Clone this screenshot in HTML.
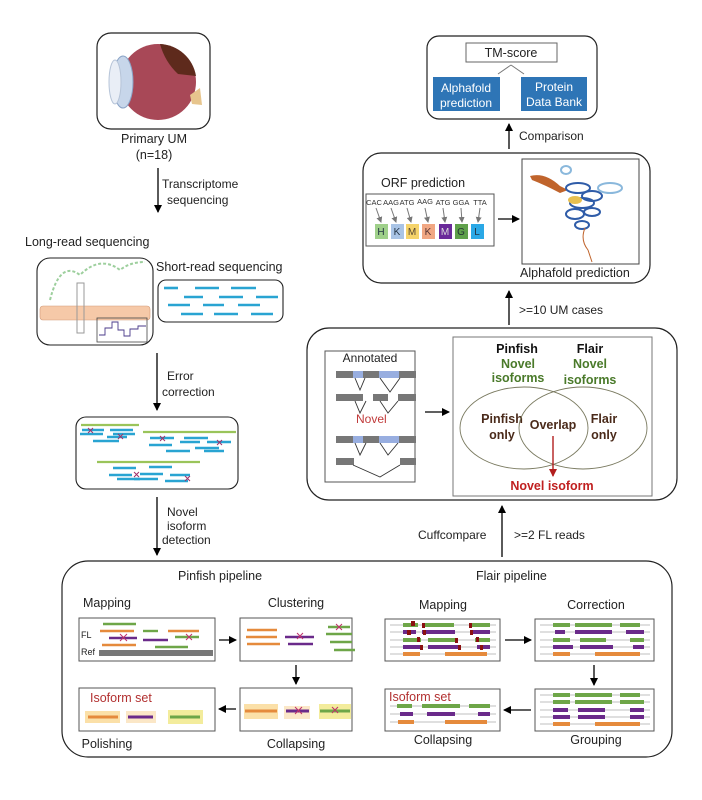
<!DOCTYPE html>
<html><head><meta charset="utf-8"><style>
html,body{margin:0;padding:0;background:#fff;}
svg{display:block;font-family:"Liberation Sans",Arial,sans-serif;}
</style></head><body>
<svg width="702" height="800" viewBox="0 0 702 800" xmlns="http://www.w3.org/2000/svg">
<defs>
<marker id="ah" markerWidth="8" markerHeight="8" refX="7" refY="4" orient="auto" markerUnits="userSpaceOnUse"><path d="M0,0 L8,4 L0,8 z" fill="#000"/></marker>
<marker id="ahr" markerWidth="8" markerHeight="8" refX="7" refY="4" orient="auto" markerUnits="userSpaceOnUse"><path d="M0,0 L8,4 L0,8 z" fill="#b21e1e"/></marker>
<marker id="ahg" markerWidth="6" markerHeight="6" refX="5" refY="3" orient="auto" markerUnits="userSpaceOnUse"><path d="M0,0 L6,3 L0,6 z" fill="#777"/></marker>
</defs>
<rect width="702" height="800" fill="#fff"/>

<!-- Eye -->
<rect x="97" y="33" width="113" height="96" rx="14" fill="#fff" stroke="#222" stroke-width="1.2"/>
<circle cx="158" cy="82" r="38" fill="#a84857"/>
<path d="M160,44 A38,38 0 0 1 196,76 L178,74 Q165,62 160,44z" fill="#5e2a1c"/>
<path d="M190,95 L200,88 L202,105 L192,104z" fill="#e7c58d"/>
<ellipse cx="123" cy="82" rx="10" ry="26" fill="#c7d6ea" stroke="#8aa3c6"/>
<ellipse cx="115" cy="82" rx="6" ry="22" fill="#e9eef6" stroke="#b6c4d8"/>
<text x="154" y="143" font-size="12.5" text-anchor="middle" fill="#222">Primary UM</text>
<text x="154" y="159" font-size="12.5" text-anchor="middle" fill="#222">(n=18)</text>

<line x1="158" y1="168" x2="158" y2="212" stroke="#000" stroke-width="1.3" marker-end="url(#ah)"/>
<text x="162" y="188" font-size="12" fill="#222">Transcriptome</text>
<text x="167" y="204" font-size="12" fill="#222">sequencing</text>

<text x="25" y="246" font-size="12.5" fill="#222">Long-read sequencing</text>
<rect x="37" y="258" width="116" height="87" rx="13" fill="#fff" stroke="#222" stroke-width="1.1"/>
<path d="M50,300 Q60,260 80,275 Q100,255 120,270 Q130,262 145,262" fill="none" stroke="#9dcf9d" stroke-width="2" stroke-dasharray="3,2"/>
<rect x="40" y="306" width="110" height="14" rx="3" fill="#f6c9a8" stroke="#d29a78" stroke-width="0.6"/>
<rect x="77" y="283" width="7" height="50" fill="none" stroke="#999"/>
<rect x="97" y="318" width="50" height="24" fill="none" stroke="#444" stroke-width="0.8"/>
<path d="M99,335 L105,335 L105,328 L112,328 L112,322 L118,322 L118,330 L124,330 L124,336 L130,336 L130,329 L138,329 L138,326 L146,326" fill="none" stroke="#4a3a8a" stroke-width="0.9"/>

<text x="156" y="271" font-size="12.5" fill="#222">Short-read sequencing</text>
<rect x="158" y="280" width="125" height="42" rx="8" fill="#fff" stroke="#222" stroke-width="1.1"/>
<g stroke="#29a4d2" stroke-width="2.6">
<line x1="164" y1="288" x2="178" y2="288"/><line x1="195" y1="288" x2="219" y2="288"/><line x1="231" y1="288" x2="256" y2="288"/>
<line x1="184" y1="297" x2="203" y2="297"/><line x1="219" y1="297" x2="243" y2="297"/><line x1="256" y1="297" x2="278" y2="297"/>
<line x1="168" y1="305" x2="190" y2="305"/><line x1="203" y1="305" x2="224" y2="305"/><line x1="238" y1="305" x2="260" y2="305"/>
<line x1="181" y1="314" x2="203" y2="314"/><line x1="214" y1="314" x2="238" y2="314"/><line x1="251" y1="314" x2="273" y2="314"/>
</g>

<line x1="157" y1="353" x2="157" y2="410" stroke="#000" stroke-width="1.3" marker-end="url(#ah)"/>
<text x="167" y="380" font-size="12" fill="#222">Error</text>
<text x="162" y="396" font-size="12" fill="#222">correction</text>

<rect x="76" y="417" width="162" height="72" rx="10" fill="#fff" stroke="#222" stroke-width="1.1"/>
<g stroke="#9ac45a" stroke-width="2.2">
<line x1="81" y1="425" x2="139" y2="425"/><line x1="143" y1="432" x2="236" y2="432"/><line x1="97" y1="462" x2="200" y2="462"/>
</g>
<g stroke="#29a4d2" stroke-width="2.4">
<line x1="82" y1="430" x2="104" y2="430"/><line x1="110" y1="430" x2="133" y2="430"/><line x1="80" y1="434" x2="103" y2="434"/><line x1="113" y1="434" x2="135" y2="434"/><line x1="93" y1="441" x2="119" y2="441"/><line x1="107" y1="437" x2="127" y2="437"/>
<line x1="150" y1="438" x2="174" y2="438"/><line x1="184" y1="438" x2="208" y2="438"/><line x1="149" y1="445" x2="172" y2="445"/><line x1="180" y1="442" x2="200" y2="442"/><line x1="207" y1="442" x2="231" y2="442"/><line x1="166" y1="451" x2="190" y2="451"/><line x1="195" y1="448" x2="219" y2="448"/><line x1="204" y1="451" x2="224" y2="451"/>
<line x1="113" y1="468" x2="136" y2="468"/><line x1="149" y1="467" x2="172" y2="467"/><line x1="109" y1="475" x2="132" y2="475"/><line x1="140" y1="474" x2="163" y2="474"/><line x1="117" y1="479" x2="140" y2="479"/><line x1="170" y1="475" x2="190" y2="475"/><line x1="134" y1="479" x2="158" y2="479"/><line x1="165" y1="481" x2="188" y2="481"/>
</g>
<g stroke="#a0306a" stroke-width="1"><path d="M88,428 l5,5 M93,428 l-5,5 M118,434 l5,5 M123,434 l-5,5 M160,436 l5,5 M165,436 l-5,5 M217,440 l5,5 M222,440 l-5,5 M134,472 l5,5 M139,472 l-5,5 M185,476 l5,5 M190,476 l-5,5"/></g>

<line x1="157" y1="497" x2="157" y2="555" stroke="#000" stroke-width="1.3" marker-end="url(#ah)"/>
<text x="167" y="516" font-size="12" fill="#222">Novel</text>
<text x="167" y="530" font-size="12" fill="#222">isoform</text>
<text x="162" y="544" font-size="12" fill="#222">detection</text>

<!-- Bottom pipeline box -->
<rect x="62" y="561" width="610" height="196" rx="26" fill="#fff" stroke="#222" stroke-width="1.2"/>
<text x="178" y="580" font-size="12.5" fill="#222">Pinfish pipeline</text>
<text x="476" y="580" font-size="12.5" fill="#222">Flair pipeline</text>
<g font-size="12.5" fill="#222" text-anchor="middle">
<text x="107" y="607">Mapping</text><text x="296" y="607">Clustering</text>
<text x="443" y="609">Mapping</text><text x="596" y="609">Correction</text>
<text x="107" y="748">Polishing</text><text x="296" y="748">Collapsing</text>
<text x="443" y="744">Collapsing</text><text x="596" y="744">Grouping</text>
</g>
<g fill="#fff" stroke="#555" stroke-width="1">
<rect x="79" y="618" width="136" height="43"/><rect x="240" y="618" width="112" height="43"/>
<rect x="79" y="688" width="136" height="43"/><rect x="240" y="688" width="112" height="43"/>
<rect x="385" y="619" width="115" height="42"/><rect x="535" y="619" width="119" height="42"/>
<rect x="385" y="689" width="115" height="42"/><rect x="535" y="689" width="119" height="42"/>
</g>
<text x="81" y="638" font-size="9" fill="#222">FL</text>
<text x="81" y="655" font-size="9" fill="#222">Ref</text>
<rect x="99" y="650" width="114" height="6" fill="#777"/>
<g stroke-width="2.4">
<line x1="103" y1="624" x2="136" y2="624" stroke="#6ea648"/><line x1="100" y1="631" x2="134" y2="631" stroke="#e58a3c"/>
<line x1="109" y1="638" x2="137" y2="638" stroke="#6a2a8a"/><line x1="102" y1="645" x2="136" y2="645" stroke="#e58a3c"/>
<line x1="143" y1="631" x2="158" y2="631" stroke="#6ea648"/><line x1="143" y1="640" x2="168" y2="640" stroke="#6a2a8a"/>
<line x1="168" y1="631" x2="199" y2="631" stroke="#e58a3c"/><line x1="175" y1="637" x2="199" y2="637" stroke="#6ea648"/>
<line x1="155" y1="647" x2="188" y2="647" stroke="#6ea648"/>
<line x1="247" y1="630" x2="277" y2="630" stroke="#e58a3c"/><line x1="246" y1="637" x2="277" y2="637" stroke="#e58a3c"/><line x1="247" y1="644" x2="280" y2="644" stroke="#e58a3c"/>
<line x1="285" y1="637" x2="314" y2="637" stroke="#6a2a8a"/><line x1="288" y1="644" x2="313" y2="644" stroke="#6a2a8a"/>
<line x1="328" y1="627" x2="350" y2="627" stroke="#6ea648"/><line x1="326" y1="634" x2="352" y2="634" stroke="#6ea648"/><line x1="330" y1="642" x2="352" y2="642" stroke="#6ea648"/><line x1="334" y1="650" x2="355" y2="650" stroke="#6ea648"/>
</g>
<g stroke="#c0306a" stroke-width="1"><path d="M120,634 l7,7 M127,634 l-7,7 M186,634 l6,6 M192,634 l-6,6 M297,633 l6,6 M303,633 l-6,6 M336,624 l6,6 M342,624 l-6,6"/></g>
<text x="90" y="702" font-size="12.5" fill="#b23030">Isoform set</text>
<g>
<rect x="85" y="711" width="35" height="12" fill="#fbe0a8"/><rect x="126" y="711" width="30" height="12" fill="#fbe7c7"/><rect x="168" y="710" width="35" height="14" fill="#f3ec9c"/>
<line x1="88" y1="717" x2="118" y2="717" stroke="#e58a3c" stroke-width="3"/><line x1="128" y1="717" x2="153" y2="717" stroke="#6a2a8a" stroke-width="3"/><line x1="170" y1="717" x2="200" y2="717" stroke="#6ea648" stroke-width="3"/>
<rect x="244" y="704" width="34" height="15" fill="#fbe0a8"/><rect x="284" y="706" width="26" height="13" fill="#fbe7c7"/><rect x="319" y="704" width="32" height="15" fill="#f3ec9c"/>
<line x1="245" y1="711" x2="277" y2="711" stroke="#e58a3c" stroke-width="3"/><line x1="286" y1="711" x2="309" y2="711" stroke="#6a2a8a" stroke-width="3"/><line x1="320" y1="711" x2="350" y2="711" stroke="#6ea648" stroke-width="3"/>
<path d="M295,707 l7,7 M302,707 l-7,7 M332,707 l6,6 M338,707 l-6,6" stroke="#c0306a" stroke-width="1"/>
</g>
<!-- Flair bars -->
<g stroke="#aaa" stroke-width="0.8">
<line x1="390" y1="625" x2="496" y2="625"/><line x1="390" y1="632" x2="496" y2="632"/><line x1="390" y1="640" x2="496" y2="640"/><line x1="390" y1="647" x2="496" y2="647"/><line x1="390" y1="654" x2="496" y2="654"/>
<line x1="540" y1="625" x2="650" y2="625"/><line x1="540" y1="632" x2="650" y2="632"/><line x1="540" y1="640" x2="650" y2="640"/><line x1="540" y1="647" x2="650" y2="647"/><line x1="540" y1="654" x2="650" y2="654"/>
<line x1="540" y1="695" x2="650" y2="695"/><line x1="540" y1="702" x2="650" y2="702"/><line x1="540" y1="710" x2="650" y2="710"/><line x1="540" y1="717" x2="650" y2="717"/><line x1="540" y1="724" x2="650" y2="724"/>
<line x1="390" y1="706" x2="496" y2="706"/><line x1="390" y1="714" x2="496" y2="714"/><line x1="390" y1="722" x2="496" y2="722"/>
</g>
<g stroke-width="4">
<line x1="403" y1="625" x2="418" y2="625" stroke="#6ea648"/><line x1="422" y1="625" x2="454" y2="625" stroke="#6ea648"/><line x1="472" y1="625" x2="490" y2="625" stroke="#6ea648"/>
<line x1="403" y1="632" x2="416" y2="632" stroke="#6a2a8a"/><line x1="422" y1="632" x2="455" y2="632" stroke="#6a2a8a"/><line x1="472" y1="632" x2="490" y2="632" stroke="#6a2a8a"/>
<line x1="403" y1="640" x2="421" y2="640" stroke="#6ea648"/><line x1="428" y1="640" x2="455" y2="640" stroke="#6ea648"/><line x1="475" y1="640" x2="490" y2="640" stroke="#6ea648"/>
<line x1="403" y1="647" x2="421" y2="647" stroke="#6a2a8a"/><line x1="428" y1="647" x2="460" y2="647" stroke="#6a2a8a"/><line x1="477" y1="647" x2="490" y2="647" stroke="#6a2a8a"/>
<line x1="403" y1="654" x2="420" y2="654" stroke="#e58a3c"/><line x1="445" y1="654" x2="487" y2="654" stroke="#e58a3c"/>
<line x1="553" y1="625" x2="570" y2="625" stroke="#6ea648"/><line x1="575" y1="625" x2="612" y2="625" stroke="#6ea648"/><line x1="620" y1="625" x2="640" y2="625" stroke="#6ea648"/>
<line x1="555" y1="632" x2="565" y2="632" stroke="#6a2a8a"/><line x1="575" y1="632" x2="612" y2="632" stroke="#6a2a8a"/><line x1="626" y1="632" x2="644" y2="632" stroke="#6a2a8a"/>
<line x1="553" y1="640" x2="570" y2="640" stroke="#6ea648"/><line x1="580" y1="640" x2="606" y2="640" stroke="#6ea648"/><line x1="630" y1="640" x2="644" y2="640" stroke="#6ea648"/>
<line x1="553" y1="647" x2="573" y2="647" stroke="#6a2a8a"/><line x1="580" y1="647" x2="613" y2="647" stroke="#6a2a8a"/><line x1="633" y1="647" x2="644" y2="647" stroke="#6a2a8a"/>
<line x1="553" y1="654" x2="570" y2="654" stroke="#e58a3c"/><line x1="595" y1="654" x2="640" y2="654" stroke="#e58a3c"/>
<line x1="553" y1="695" x2="570" y2="695" stroke="#6ea648"/><line x1="575" y1="695" x2="612" y2="695" stroke="#6ea648"/><line x1="620" y1="695" x2="640" y2="695" stroke="#6ea648"/>
<line x1="553" y1="702" x2="570" y2="702" stroke="#6ea648"/><line x1="575" y1="702" x2="612" y2="702" stroke="#6ea648"/><line x1="620" y1="702" x2="644" y2="702" stroke="#6ea648"/>
<line x1="553" y1="710" x2="568" y2="710" stroke="#6a2a8a"/><line x1="578" y1="710" x2="605" y2="710" stroke="#6a2a8a"/><line x1="630" y1="710" x2="644" y2="710" stroke="#6a2a8a"/>
<line x1="553" y1="717" x2="570" y2="717" stroke="#6a2a8a"/><line x1="578" y1="717" x2="605" y2="717" stroke="#6a2a8a"/><line x1="630" y1="717" x2="644" y2="717" stroke="#6a2a8a"/>
<line x1="553" y1="724" x2="570" y2="724" stroke="#e58a3c"/><line x1="595" y1="724" x2="640" y2="724" stroke="#e58a3c"/>
<line x1="397" y1="706" x2="412" y2="706" stroke="#6ea648"/><line x1="422" y1="706" x2="460" y2="706" stroke="#6ea648"/><line x1="469" y1="706" x2="490" y2="706" stroke="#6ea648"/>
<line x1="400" y1="714" x2="413" y2="714" stroke="#6a2a8a"/><line x1="427" y1="714" x2="455" y2="714" stroke="#6a2a8a"/><line x1="478" y1="714" x2="490" y2="714" stroke="#6a2a8a"/>
<line x1="398" y1="722" x2="414" y2="722" stroke="#e58a3c"/><line x1="445" y1="722" x2="487" y2="722" stroke="#e58a3c"/>
</g>
<g fill="#8b1010">
<rect x="411" y="621" width="4" height="5"/><rect x="422" y="623" width="3" height="5"/><rect x="469" y="623" width="3" height="5"/>
<rect x="407" y="630" width="4" height="5"/><rect x="423" y="630" width="3" height="5"/><rect x="470" y="630" width="3" height="5"/>
<rect x="417" y="637" width="3" height="5"/><rect x="455" y="638" width="3" height="5"/><rect x="476" y="637" width="3" height="5"/>
<rect x="420" y="645" width="3" height="5"/><rect x="458" y="645" width="3" height="5"/><rect x="480" y="645" width="3" height="5"/>
</g>
<text x="389" y="701" font-size="12.5" fill="#b23030">Isoform set</text>
<g stroke="#000" stroke-width="1.3" fill="none">
<line x1="219" y1="640" x2="236" y2="640" marker-end="url(#ah)"/>
<line x1="296" y1="665" x2="296" y2="684" marker-end="url(#ah)"/>
<line x1="236" y1="709" x2="219" y2="709" marker-end="url(#ah)"/>
<line x1="505" y1="640" x2="531" y2="640" marker-end="url(#ah)"/>
<line x1="594" y1="665" x2="594" y2="685" marker-end="url(#ah)"/>
<line x1="531" y1="710" x2="504" y2="710" marker-end="url(#ah)"/>
</g>

<!-- Cuffcompare arrow -->
<line x1="502" y1="557" x2="502" y2="506" stroke="#000" stroke-width="1.3" marker-end="url(#ah)"/>
<text x="418" y="539" font-size="12" fill="#222">Cuffcompare</text>
<text x="514" y="539" font-size="12" fill="#222">&gt;=2 FL reads</text>

<!-- Venn outer -->
<rect x="307" y="328" width="370" height="172" rx="22" fill="#fff" stroke="#222" stroke-width="1.2"/>
<rect x="325" y="351" width="90" height="131" fill="#fff" stroke="#555" stroke-width="1"/>
<text x="370" y="362" font-size="12" text-anchor="middle" fill="#222">Annotated</text>
<g fill="#777">
<rect x="336" y="371" width="80" height="7"/><rect x="336" y="394" width="80" height="7"/><rect x="336" y="436" width="80" height="7"/><rect x="336" y="458" width="80" height="7"/>
</g>
<g fill="#98aee0"><rect x="353" y="371" width="10" height="7"/><rect x="379" y="371" width="20" height="7"/><rect x="353" y="436" width="10" height="7"/><rect x="379" y="436" width="20" height="7"/></g>
<g fill="#fff"><rect x="363" y="394" width="10" height="7"/><rect x="399" y="394" width="0" height="7"/><rect x="388" y="394" width="10" height="7"/><rect x="354" y="458" width="46" height="7"/></g>
<g stroke="#333" stroke-width="0.9" fill="none">
<path d="M355,378 L360,390 L365,378 M380,378 L390,392 L400,378 M355,401 L360,413 L366,401 M380,401 L388,413 L398,401 M355,443 L360,455 L366,443 M380,443 L388,455 L398,443 M353,465 L380,477 L400,465"/>
</g>
<text x="356" y="423" font-size="12" fill="#c03a3a">Novel</text>
<line x1="425" y1="412" x2="449" y2="412" stroke="#000" stroke-width="1.3" marker-end="url(#ah)"/>

<rect x="453" y="337" width="199" height="159" fill="#fff" stroke="#777" stroke-width="1"/>
<g font-weight="bold" font-size="12.5" text-anchor="middle">
<text x="517" y="353" fill="#111">Pinfish</text><text x="590" y="353" fill="#111">Flair</text>
<text x="518" y="368" fill="#4a7a2a">Novel</text><text x="590" y="368" fill="#4a7a2a">Novel</text>
<text x="518" y="382" fill="#4a7a2a">isoforms</text><text x="590" y="384" fill="#4a7a2a">isoforms</text>
<text x="502" y="423" fill="#4a2a1a">Pinfish</text><text x="502" y="439" fill="#4a2a1a">only</text>
<text x="553" y="429" fill="#4a2a1a">Overlap</text>
<text x="604" y="423" fill="#4a2a1a">Flair</text><text x="604" y="439" fill="#4a2a1a">only</text>
<text x="552" y="490" fill="#c02020">Novel isoform</text>
</g>
<ellipse cx="524" cy="428" rx="64" ry="41" fill="none" stroke="#7a7a60" stroke-width="0.9"/>
<ellipse cx="583" cy="428" rx="64" ry="41" fill="none" stroke="#7a7a60" stroke-width="0.9"/>
<line x1="553" y1="436" x2="553" y2="476" stroke="#b21e1e" stroke-width="1.4" marker-end="url(#ahr)"/>

<line x1="509" y1="325" x2="509" y2="291" stroke="#000" stroke-width="1.3" marker-end="url(#ah)"/>
<text x="519" y="314" font-size="12" fill="#222">&gt;=10 UM cases</text>

<!-- ORF box -->
<rect x="363" y="153" width="287" height="130" rx="18" fill="#fff" stroke="#222" stroke-width="1.2"/>
<text x="381" y="187" font-size="12.5" fill="#222">ORF prediction</text>
<rect x="366" y="194" width="128" height="52" fill="#fff" stroke="#555" stroke-width="1"/>
<g font-size="7.5" fill="#333" text-anchor="middle">
<text x="374" y="205">CAC</text><text x="391" y="205">AAG</text><text x="407" y="205">ATG</text><text x="425" y="204">AAG</text><text x="443" y="205">ATG</text><text x="461" y="205">GGA</text><text x="480" y="205">TTA</text>
</g>
<g stroke="#777" stroke-width="1">
<line x1="376" y1="208" x2="381" y2="222" marker-end="url(#ahg)"/><line x1="391" y1="208" x2="396" y2="222" marker-end="url(#ahg)"/><line x1="407" y1="208" x2="411" y2="222" marker-end="url(#ahg)"/><line x1="425" y1="208" x2="428" y2="222" marker-end="url(#ahg)"/><line x1="443" y1="208" x2="445" y2="222" marker-end="url(#ahg)"/><line x1="461" y1="208" x2="462" y2="222" marker-end="url(#ahg)"/><line x1="480" y1="208" x2="478" y2="222" marker-end="url(#ahg)"/>
</g>
<g font-size="10" text-anchor="middle">
<rect x="375" y="224" width="13" height="15" fill="#9fd08a"/><text x="381" y="235" fill="#234">H</text>
<rect x="391" y="224" width="13" height="15" fill="#a9c4e6"/><text x="397" y="235" fill="#234">K</text>
<rect x="406" y="224" width="13" height="15" fill="#f5d36a"/><text x="412" y="235" fill="#543">M</text>
<rect x="422" y="224" width="13" height="15" fill="#f1a783"/><text x="428" y="235" fill="#533">K</text>
<rect x="439" y="224" width="13" height="15" fill="#6a2a9a"/><text x="445" y="235" fill="#ddd">M</text>
<rect x="455" y="224" width="13" height="15" fill="#5fa04a"/><text x="461" y="235" fill="#233">G</text>
<rect x="471" y="224" width="13" height="15" fill="#2aa8e6"/><text x="477" y="235" fill="#234">L</text>
</g>
<line x1="498" y1="219" x2="519" y2="219" stroke="#000" stroke-width="1.3" marker-end="url(#ah)"/>
<rect x="522" y="159" width="117" height="105" fill="#fff" stroke="#444" stroke-width="1"/>
<path d="M530,176 Q545,172 560,186 L568,190 L560,193 Q545,185 532,180z" fill="#c0642c"/>
<g fill="none" stroke="#2f5ca8" stroke-width="2">
<ellipse cx="578" cy="188" rx="12" ry="5"/><ellipse cx="592" cy="196" rx="10" ry="5"/><ellipse cx="582" cy="203" rx="12" ry="5"/><ellipse cx="575" cy="214" rx="9" ry="5"/><ellipse cx="592" cy="212" rx="8" ry="4"/><ellipse cx="582" cy="225" rx="7" ry="4"/>
</g>
<g fill="none" stroke="#8ab8dc" stroke-width="2"><ellipse cx="610" cy="188" rx="12" ry="5"/><ellipse cx="566" cy="170" rx="5" ry="4"/></g>
<ellipse cx="575" cy="200" rx="7" ry="4" fill="#e8c050"/>
<path d="M585,228 Q580,240 588,250 L592,262" fill="none" stroke="#c0642c" stroke-width="1"/>
<text x="520" y="277" font-size="12.5" fill="#222">Alphafold  prediction</text>

<line x1="509" y1="149" x2="509" y2="124" stroke="#000" stroke-width="1.3" marker-end="url(#ah)"/>
<text x="519" y="140" font-size="12" fill="#222">Comparison</text>

<!-- TM-score box -->
<rect x="427" y="36" width="170" height="83" rx="12" fill="#fff" stroke="#222" stroke-width="1.2"/>
<rect x="466" y="43" width="91" height="19" fill="#fff" stroke="#666" stroke-width="1"/>
<text x="511" y="57" font-size="12.5" text-anchor="middle" fill="#222">TM-score</text>
<path d="M511,65 L498,74 M511,65 L524,74" stroke="#777" fill="none"/>
<rect x="433" y="77" width="67" height="34" fill="#2e75b6"/>
<rect x="521" y="77" width="66" height="34" fill="#2e75b6"/>
<g font-size="12" fill="#fff" text-anchor="middle">
<text x="466" y="92">Alphafold</text><text x="466" y="107">prediction</text>
<text x="554" y="91">Protein</text><text x="554" y="106">Data Bank</text>
</g>
</svg>
</body></html>
